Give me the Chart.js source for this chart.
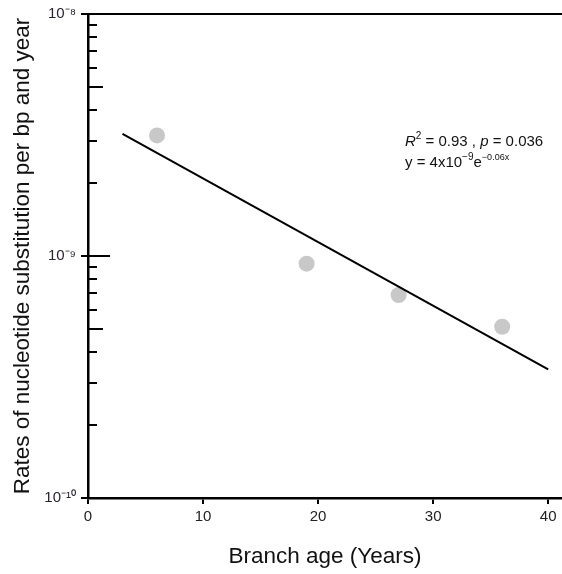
<!DOCTYPE html>
<html>
<head>
<meta charset="utf-8">
<script src="https://cdn.jsdelivr.net/npm/chart.js@4"></script>
<style>
  html, body { margin: 0; padding: 0; background: #fff; }
  #wrap { width: 562px; height: 574px; }
</style>
</head>
<body>
<div id="wrap"><canvas id="chart" width="562" height="574"></canvas></div>
<script>
// values
const ageYears = [6, 19, 27, 36];
const rates = [3.15e-9, 0.93e-9, 0.69e-9, 0.51e-9];
// fitted curve y = 4x10^-9 e^-0.06x, end points as drawn
const fitX = [3, 40];
const fitY = [3.2e-9, 0.34e-9];

const xTicks = [0, 10, 20, 30, 40];
const yMajorTicks = [1e-10, 1e-9, 1e-8];
const yTickLabels = ['10\u207B\u00B9\u2070', '10\u207B\u2079', '10\u207B\u2078'];
const minorMantissas = [2, 3, 4, 5, 6, 7, 8, 9];
const minorDecades = [1e-10, 1e-9];

const FONT = "'Liberation Sans', Arial, sans-serif";

// inward minor ticks, top frame line and the fit annotation
const extras = {
    id: 'extras',
    afterDraw(chart) {
        const ctx = chart.ctx;
        const y = chart.scales.y;
        const area = chart.chartArea;
        ctx.save();
        ctx.strokeStyle = '#000';
        ctx.lineWidth = 2;

        // top frame
        ctx.beginPath();
        ctx.moveTo(area.left - 6, area.top);
        ctx.lineTo(chart.width, area.top);
        ctx.stroke();

        // minor ticks point into the plot
        minorDecades.forEach(d => {
            minorMantissas.forEach(m => {
                const py = Math.round(y.getPixelForValue(m * d));
                const len = m === 5 ? 15 : 9;
                ctx.beginPath();
                ctx.moveTo(area.left, py);
                ctx.lineTo(area.left + len, py);
                ctx.stroke();
            });
        });
        // middle decade tick crosses the axis
        const p9 = Math.round(y.getPixelForValue(1e-9));
        ctx.beginPath();
        ctx.moveTo(area.left, p9);
        ctx.lineTo(area.left + 22, p9);
        ctx.stroke();

        // annotation
        const x0 = area.left + 317;
        let yy = area.top + 132;
        ctx.fillStyle = '#111';
        ctx.textBaseline = 'alphabetic';
        ctx.textAlign = 'left';
        const parts1 = [
            ['R', 'italic 15px ' + FONT, 0],
            ['2', '10px ' + FONT, -7],
            [' = 0.93 , ', '15px ' + FONT, 0],
            ['p', 'italic 15px ' + FONT, 0],
            [' = 0.036', '15px ' + FONT, 0]
        ];
        const parts2 = [
            ['y = 4x10', '15px ' + FONT, 0],
            ['\u22129', '10px ' + FONT, -7],
            ['e', '15px ' + FONT, 0],
            ['\u22120.06x', '9px ' + FONT, -7]
        ];
        [parts1, parts2].forEach(parts => {
            let xx = x0;
            parts.forEach(([t, f, dy]) => {
                ctx.font = f;
                ctx.fillText(t, xx, yy + dy);
                xx += ctx.measureText(t).width;
            });
            yy += 21;
        });
        ctx.restore();
    }
};

new Chart(document.getElementById('chart').getContext('2d'), {
    type: 'scatter',
    data: {
        datasets: [{
            label: 'rates',
            data: ageYears.map((a, i) => ({ x: a, y: rates[i] })),
            pointRadius: 8,
            pointHoverRadius: 8,
            pointBackgroundColor: '#c8c8c8',
            pointBorderWidth: 0,
            order: 2
        }, {
            label: 'fit',
            data: fitX.map((a, i) => ({ x: a, y: fitY[i] })),
            showLine: true,
            borderColor: '#000',
            borderWidth: 2,
            pointRadius: 0,
            order: 1
        }]
    },
    options: {
        responsive: false,
        animation: false,
        devicePixelRatio: 1,
        layout: { autoPadding: false, padding: { top: 14, right: 0, left: 0, bottom: 0 } },
        plugins: {
            legend: { display: false },
            tooltip: { enabled: false }
        },
        scales: {
            x: {
                type: 'linear',
                min: 0,
                max: 41.2,
                afterBuildTicks: s => { s.ticks = xTicks.map(v => ({ value: v })); },
                afterFit: s => { s.height = 76; s.paddingRight = 0; s.paddingLeft = 0; },
                border: { color: '#000', width: 2.5 },
                grid: { drawOnChartArea: false, drawTicks: true, tickLength: 6, color: '#000', lineWidth: 2 },
                ticks: { color: '#222', font: { size: 15, family: FONT }, padding: 4 },
                title: {
                    display: true,
                    text: 'Branch age (Years)',
                    color: '#111',
                    font: { size: 22.5, family: FONT },
                    padding: { top: 0, bottom: 4 }
                }
            },
            y: {
                type: 'logarithmic',
                min: 1e-10,
                max: 1e-8,
                afterBuildTicks: s => { s.ticks = yMajorTicks.map(v => ({ value: v })); },
                afterFit: s => { s.width = 88; },
                border: { color: '#000', width: 2.5 },
                grid: { drawOnChartArea: false, drawTicks: true, tickLength: 7, color: '#000', lineWidth: 2 },
                ticks: {
                    color: '#2a2230',
                    font: { size: 15, family: FONT },
                    padding: 5,
                    callback: v => {
                        const i = yMajorTicks.findIndex(t => Math.abs(Math.log10(t) - Math.log10(v)) < 1e-6);
                        return i >= 0 ? yTickLabels[i] : '';
                    }
                },
                title: {
                    display: true,
                    text: 'Rates of nucleotide substitution per bp and year',
                    color: '#111',
                    font: { size: 22.5, family: FONT },
                    padding: { top: 9, bottom: 0 }
                }
            }
        }
    },
    plugins: [extras]
});
</script>
</body>
</html>
